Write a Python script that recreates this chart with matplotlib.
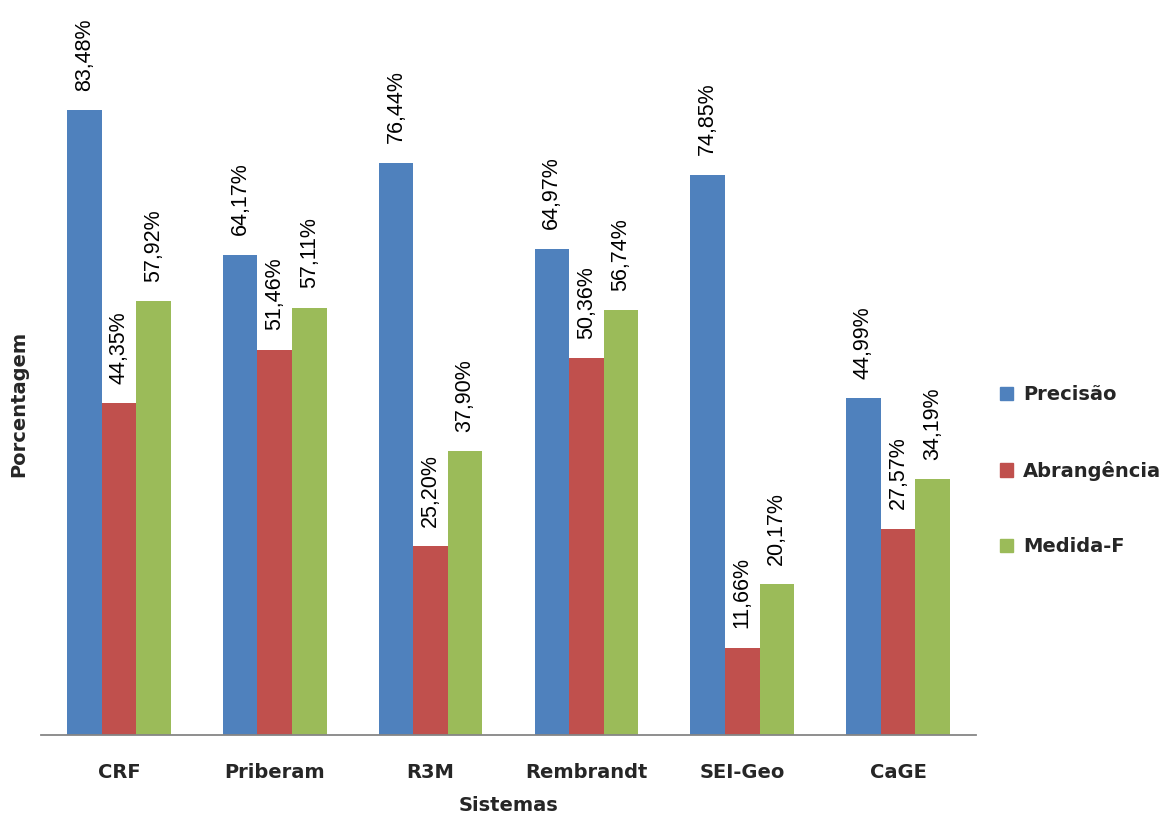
import numpy as np
import matplotlib
matplotlib.use("Agg")
import matplotlib.pyplot as plt
from matplotlib.patches import Patch

# valores
sistemas = ["CRF", "Priberam", "R3M", "Rembrandt", "SEI-Geo", "CaGE"]
precisao = [83.48, 64.17, 76.44, 64.97, 74.85, 44.99]
abrangencia = [44.35, 51.46, 25.20, 50.36, 11.66, 27.57]
medida_f = [57.92, 57.11, 37.90, 56.74, 20.17, 34.19]

series = [
    ("Precisão", precisao, "#4F81BD"),
    ("Abrangência", abrangencia, "#C0504D"),
    ("Medida-F", medida_f, "#9BBB59"),
]

fig = plt.figure(figsize=(11.75, 8.23), dpi=100)
ax = fig.add_axes([0.0349, 0.1069, 0.7957, 0.8931])

x = np.arange(len(sistemas))
largura = 0.222

for i, (nome, vals, cor) in enumerate(series):
    pos = x + (i - 1) * largura
    ax.bar(pos, vals, width=largura, color=cor, label=nome)
    for px, v in zip(pos, vals):
        txt = f"{v:.2f}".replace(".", ",") + "%"
        ax.annotate(txt, (px, v), xytext=(0, 14), textcoords="offset points",
                    rotation=90, ha="center", va="bottom",
                    fontsize=15.5, family="Liberation Sans")

ax.set_xlim(-0.5, len(sistemas) - 0.5)
ax.set_ylim(0, 98.2)
ax.set_xticks(x)
ax.set_xticklabels(sistemas, fontsize=14, fontweight="bold", color="#262626")
ax.tick_params(axis="x", length=0, pad=20)
ax.set_yticks([])
for s in ["top", "right", "left"]:
    ax.spines[s].set_visible(False)
ax.spines["bottom"].set_color("#868686")
ax.spines["bottom"].set_linewidth(1.3)

ax.set_xlabel("Sistemas", fontsize=14, fontweight="bold", color="#262626", labelpad=10)
ax.set_ylabel("Porcentagem", fontsize=14, fontweight="bold", color="#262626")
ax.yaxis.set_label_coords(-0.014, 0.45)

handles = [Patch(color=c, label=n) for n, _, c in series]
fig.legend(handles=handles, loc="center left", bbox_to_anchor=(0.836, 0.428),
           frameon=False, prop={"size": 14, "weight": "bold"},
           handlelength=0.7, handleheight=0.7, handletextpad=0.5,
           labelspacing=2.9, labelcolor="#262626")

fig.savefig("out.png", dpi=100)
